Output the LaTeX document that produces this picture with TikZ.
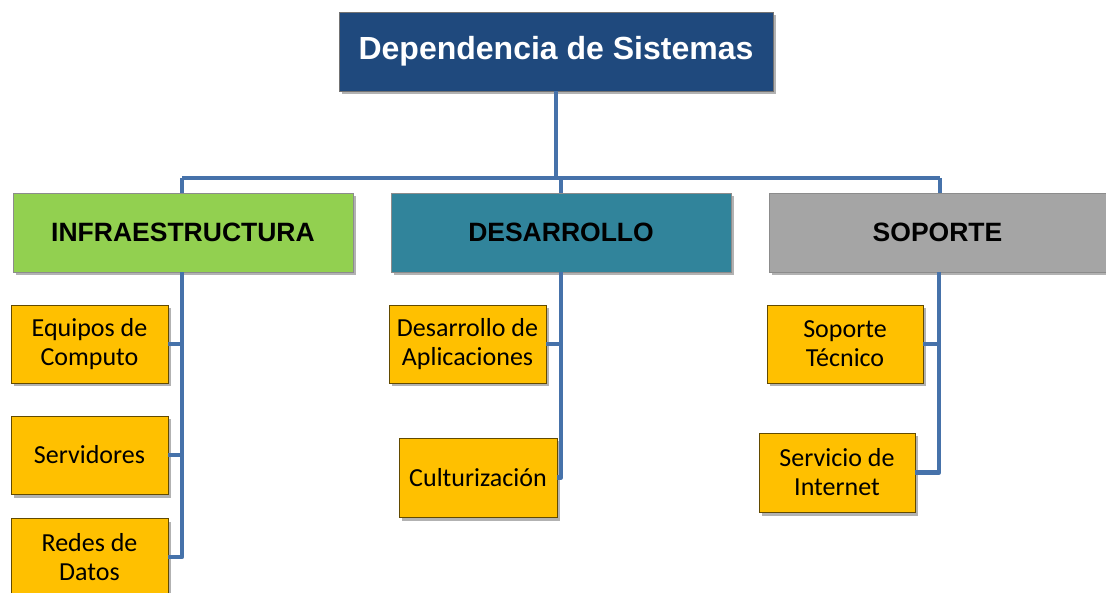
\documentclass[tikz,border=0pt]{standalone}
\usepackage{fontspec}
\setmainfont{Carlito}
\newfontfamily\hdfont{Liberation Sans}
\usetikzlibrary{shadows}
\definecolor{topblue}{RGB}{31,73,125}
\definecolor{infgreen}{RGB}{146,208,80}
\definecolor{desteal}{RGB}{49,132,155}
\definecolor{sopgray}{RGB}{165,165,165}
\definecolor{itemyel}{RGB}{255,192,0}
\definecolor{busblue}{RGB}{70,114,170}
\tikzset{
  boxshadow/.style={drop shadow={shadow xshift=2.5pt, shadow yshift=-3.5pt, opacity=0.3, fill=black}},
  topbox/.style={rectangle, fill=topblue, draw=black!55, line width=0.8pt, boxshadow,
    minimum width=434pt, minimum height=79pt, inner sep=0pt, text=white,
    font=\hdfont\bfseries\fontsize{32}{38}\selectfont},
  headbox/.style={rectangle, draw=black!45, line width=0.8pt, boxshadow,
    minimum height=79pt, inner sep=0pt, text=black,
    font=\hdfont\bfseries\fontsize{26.5}{32}\selectfont},
  itembox/.style={rectangle, fill=itemyel, draw=black!45!itemyel!70!black, line width=0.8pt, boxshadow,
    minimum width=157pt, minimum height=78pt, inner sep=0pt, align=center, text=black,
    font=\fontsize{26}{29}\selectfont},
  bus/.style={draw=busblue, line width=4.5pt, line join=round}
}
\begin{document}
\begin{tikzpicture}[x=1pt,y=-1pt]
\useasboundingbox (0,0) rectangle (1106,593);
% nodes
\node[topbox] (top) at (556,51.5) {Dependencia de Sistemas};
\node[headbox, fill=infgreen, minimum width=340pt] (inf) at (183,232.5) {INFRAESTRUCTURA};
\node[headbox, fill=desteal, minimum width=340pt] (des) at (561,232.5) {DESARROLLO};
\node[headbox, fill=sopgray, minimum width=337pt] (sop) at (937.5,232.5) {SOPORTE};
\node[itembox] (e1) at (89.5,344) {Equipos de\\Computo};
\node[itembox] (e2) at (89.5,455) {Servidores};
\node[itembox] (e3) at (89.5,557) {Redes de\\Datos};
\node[itembox] (d1) at (467.5,344) {Desarrollo de\\Aplicaciones};
\node[itembox, minimum width=158pt, minimum height=79pt] (d2) at (478,477.5) {Culturización};
\node[itembox, minimum width=156pt] (s1) at (845,344) {Soporte\\Técnico};
\node[itembox, minimum width=156pt, minimum height=79pt] (s2) at (837,472.5) {Servicio de\\Internet};
% connectors
\coordinate (busL) at (182,178);
\coordinate (busR) at (940,178);
\coordinate (colS) at (939,0);
\draw[bus] (top.south) -- (top.south |- busL);
\draw[bus] (busL) -- (busR);
\draw[bus] (busL) -- (busL |- inf.north);
\draw[bus] (des.north |- busL) -- (des.north);
\draw[bus] (busR) -- (busR |- sop.north);
% infraestructura column
\draw[bus] (busL |- inf.south) -- (busL |- e3.east) -- (e3.east);
\draw[bus] (e1.east) -- (e1.east -| busL);
\draw[bus] (e2.east) -- (e2.east -| busL);
% desarrollo column
\draw[bus] (des.south) -- (des.south |- d2.east) -- (d2.east);
\draw[bus] (d1.east) -- (d1.east -| des.south);
% soporte column
\draw[bus] (colS |- sop.south) -- (colS |- s2.east) -- (s2.east);
\draw[bus] (s1.east) -- (s1.east -| colS);
\end{tikzpicture}
\end{document}
